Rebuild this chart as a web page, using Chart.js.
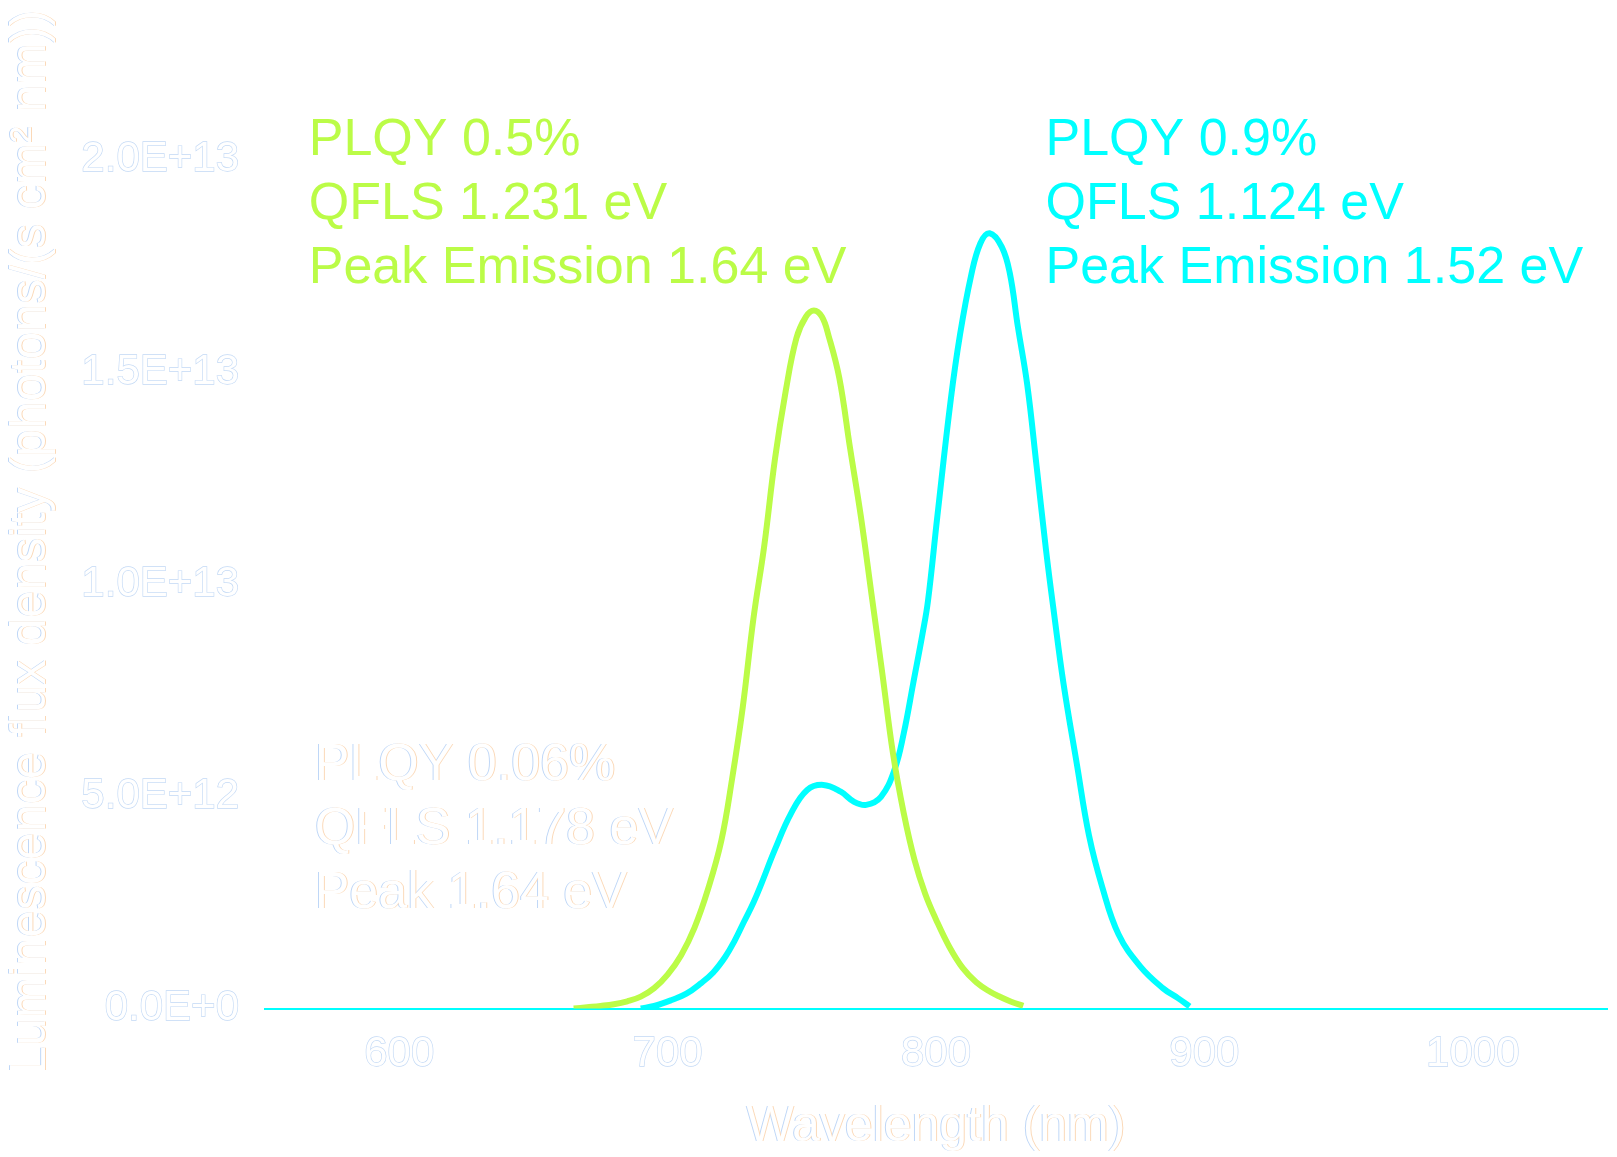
<!DOCTYPE html>
<html>
<head>
<meta charset="utf-8">
<script src="https://cdn.jsdelivr.net/npm/chart.js@4"></script>
<style>
  html, body { margin: 0; padding: 0; background: #ffffff; }
  #wrap { width: 1617px; height: 1157px; }
</style>
</head>
<body>
<div id="wrap"><canvas id="plChart" width="1617" height="1157"></canvas></div>
<script>
// wavelength (nm) and flux (units of 1e12 photons/(s cm2 nm))
const greenWavelength = [665, 670, 675, 680, 685, 690, 695, 700, 705, 710, 715, 720, 724, 728, 732, 736, 740, 744, 748, 751.5, 754.5, 757.5, 760, 764, 768, 772, 776, 780, 784, 788, 792, 796, 800, 805, 810, 815, 820, 824, 828, 832.5];
const greenFlux = [0, 0.03, 0.06, 0.1, 0.17, 0.28, 0.48, 0.8, 1.25, 1.9, 2.8, 3.95, 5.4, 7.1, 9.2, 10.9, 12.95, 14.55, 15.8, 16.3, 16.45, 16.3, 15.85, 14.85, 13.2, 11.6, 9.75, 7.9, 6.0, 4.6, 3.5, 2.7, 2.1, 1.45, 0.95, 0.62, 0.4, 0.27, 0.16, 0.06];

const cyanWavelength = [690, 695, 701.5, 707, 712.5, 717, 721.5, 725, 728.5, 732, 735, 740, 746, 752, 758, 764.5, 769.5, 774, 779.5, 784.5, 788, 791.5, 795, 797, 800.5, 805.5, 809, 813, 816.5, 820, 824.5, 827.5, 830.5, 834, 837.5, 841, 844, 847.5, 852.5, 857, 862, 868, 876, 884.5, 890, 894.5];
const cyanFlux = [0, 0.06, 0.2, 0.35, 0.6, 0.85, 1.22, 1.6, 2.05, 2.5, 2.95, 3.75, 4.6, 5.15, 5.27, 5.11, 4.87, 4.8, 4.99, 5.62, 6.49, 7.66, 8.84, 9.6, 11.6, 14.35, 15.9, 17.25, 18.03, 18.27, 17.95, 17.33, 16.07, 14.7, 12.77, 10.8, 9.3, 7.66, 5.75, 4.08, 2.85, 1.75, 1.0, 0.48, 0.25, 0.05];

const xTickValues = [600, 700, 800, 900, 1000];
const yTickValues = [0, 5, 10, 15, 20];
const yTickLabels = ['0.0E+0', '5.0E+12', '1.0E+13', '1.5E+13', '2.0E+13'];

const greenNotes = ['PLQY 0.5%', 'QFLS 1.231 eV', 'Peak Emission 1.64 eV'];
const cyanNotes = ['PLQY 0.9%', 'QFLS 1.124 eV', 'Peak Emission 1.52 eV'];
const whiteNotes = ['PLQY 0.06%', 'QFLS 1.178 eV', 'Peak 1.64 eV'];

const xTitle = 'Wavelength (nm)';
const yTitle = 'Luminescence flux density (photons/(s cm\u00B2 nm))';

const GREEN = '#bbfc47';
const CYAN = '#00ffff';
const FONT = '"Liberation Sans", Arial, sans-serif';

function toPoints(xs, ys) {
    return xs.map((x, i) => ({ x: x, y: ys[i] }));
}

// white text with the faint blue / orange edges seen in the picture
function fringeText(ctx, text, x, y, dx, dy) {
    ctx.fillStyle = '#bfd7f7';
    ctx.fillText(text, x - dx, y - dy);
    ctx.fillStyle = '#fbd9b8';
    ctx.fillText(text, x + dx, y + dy);
    ctx.fillStyle = '#ffffff';
    ctx.fillText(text, x, y);
}

const notesPlugin = {
    id: 'notes',
    afterDraw(chart) {
        const ctx = chart.ctx;
        const xs = chart.scales.x;
        const ys = chart.scales.y;
        const area = chart.chartArea;
        const lineGap = 64;

        ctx.save();
        ctx.font = '52px ' + FONT;
        ctx.textAlign = 'left';
        ctx.textBaseline = 'alphabetic';

        const drawBlock = (lines, nm, val, color) => {
            const x = xs.getPixelForValue(nm);
            const y = ys.getPixelForValue(val);
            lines.forEach((t, i) => {
                if (color) {
                    ctx.fillStyle = color;
                    ctx.fillText(t, x, y + i * lineGap);
                } else {
                    fringeText(ctx, t, x, y + i * lineGap, 1, 0);
                }
            });
        };
        drawBlock(greenNotes, 566.3, 20.12, GREEN);
        drawBlock(cyanNotes, 840.8, 20.12, CYAN);
        drawBlock(whiteNotes, 568.5, 5.38, null);

        // axis titles
        ctx.font = '50px ' + FONT;
        ctx.textAlign = 'center';
        ctx.textBaseline = 'middle';
        fringeText(ctx, xTitle, (area.left + area.right) / 2, 1127, 1, 0);

        ctx.translate(31, (area.top + area.bottom) / 2);
        ctx.rotate(-Math.PI / 2);
        fringeText(ctx, yTitle, 0, 0, 0, 1);
        ctx.restore();
    }
};

const ctx = document.getElementById('plChart').getContext('2d');
new Chart(ctx, {
    type: 'line',
    data: {
        datasets: [
            {
                label: 'PLQY 0.5%',
                data: toPoints(greenWavelength, greenFlux),
                borderColor: GREEN,
                borderWidth: 6,
                pointRadius: 0,
                tension: 0.4,
                fill: false
            },
            {
                label: 'PLQY 0.9%',
                data: toPoints(cyanWavelength, cyanFlux),
                borderColor: CYAN,
                borderWidth: 6,
                pointRadius: 0,
                tension: 0.4,
                fill: false
            }
        ]
    },
    options: {
        responsive: false,
        animation: false,
        layout: { padding: { top: 75, right: 10, left: 0, bottom: 0 } },
        plugins: {
            legend: { display: false },
            tooltip: { enabled: false }
        },
        scales: {
            x: {
                type: 'linear',
                min: 550,
                max: 1050,
                afterBuildTicks: (scale) => { scale.ticks = xTickValues.map(v => ({ value: v })); },
                afterFit: (scale) => { scale.height = 148.5; },
                grid: { display: false, drawTicks: false },
                border: { display: true, color: CYAN, width: 2 },
                ticks: {
                    padding: 21,
                    color: '#ffffff',
                    textStrokeColor: '#c3d9f5',
                    textStrokeWidth: 1.3,
                    font: { family: FONT, size: 42 },
                    callback: (value) => String(value)
                }
            },
            y: {
                type: 'linear',
                min: 0,
                max: 22,
                afterBuildTicks: (scale) => { scale.ticks = yTickValues.map(v => ({ value: v })); },
                afterFit: (scale) => { scale.width = 265; },
                grid: { display: false, drawTicks: false },
                border: { display: false },
                ticks: {
                    padding: 26,
                    color: '#ffffff',
                    textStrokeColor: '#c3d9f5',
                    textStrokeWidth: 1.3,
                    font: { family: FONT, size: 42 },
                    callback: (value) => {
                        const i = yTickValues.indexOf(value);
                        return i >= 0 ? yTickLabels[i] : '';
                    }
                }
            }
        }
    },
    plugins: [notesPlugin]
});
</script>
</body>
</html>
